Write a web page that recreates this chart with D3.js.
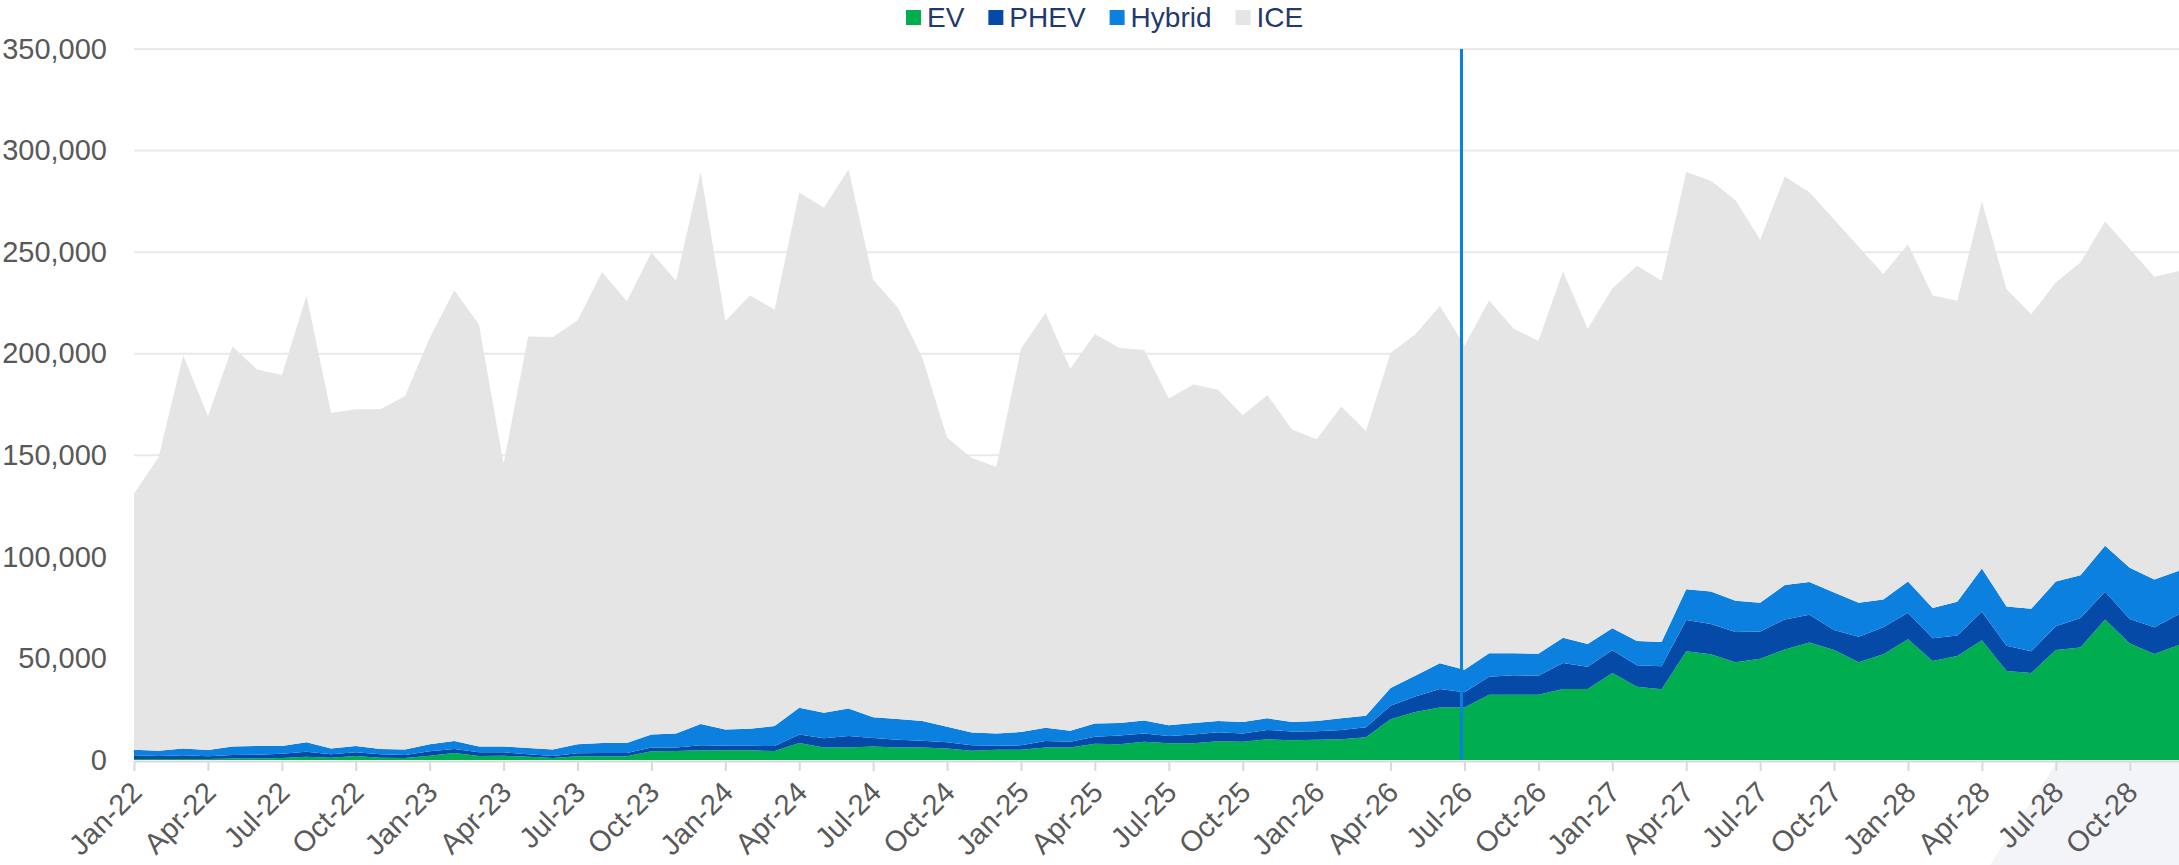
<!DOCTYPE html>
<html>
<head>
<meta charset="utf-8">
<script src="https://cdn.jsdelivr.net/npm/d3@7"></script>
<style>
  html, body { margin: 0; padding: 0; background: #ffffff; }
  svg { display: block; font-family: "Liberation Sans", Arial, sans-serif; }
</style>
</head>
<body>
<svg id="chart" width="2179" height="865"></svg>
<script>
// Monthly vehicle sales by powertrain, Jan-22 to Dec-28
const monthNames = ["Jan", "Feb", "Mar", "Apr", "May", "Jun", "Jul", "Aug", "Sep", "Oct", "Nov", "Dec"];
const years = ["22", "23", "24", "25", "26", "27", "28"];
const categories = years.flatMap(y => monthNames.map(m => `${m}-${y}`));

const seriesNames = ["EV", "PHEV", "Hybrid", "ICE"];

const ev = [
  500, 500, 500, 500, 700, 800, 1000, 1600, 1100, 2000, 1100, 1000,
  2100, 3400, 2000, 2100, 1600, 1000, 1800, 1800, 1800, 4300, 4400, 4800,
  4800, 4800, 4400, 8400, 6200, 6200, 6700, 6200, 6100, 5700, 4600, 5100,
  5100, 6200, 6200, 8000, 7700, 9000, 8200, 8200, 9200, 9000, 10200, 9700,
  10000, 10200, 11200, 20000, 23600, 25900, 25900, 32100, 32100, 32100, 34900, 34900,
  42800, 36000, 34800, 53500, 52000, 48100, 49900, 54400, 57900, 54100, 48100, 52000,
  59400, 48700, 51200, 59000, 43800, 42800, 54100, 55400, 69200, 57400, 52200, 56600
];
const phev = [
  1800, 1500, 1800, 1300, 1800, 1800, 2100, 2500, 1700, 1800, 1700, 1500,
  2200, 2000, 1800, 1700, 1200, 1000, 1500, 1600, 1600, 1800, 1700, 2400,
  2200, 2200, 2500, 4100, 4500, 5600, 4100, 3800, 3400, 3000, 2600, 1900,
  2100, 3100, 2800, 3500, 4300, 4100, 3600, 4300, 4400, 4000, 4600, 4300,
  4100, 4600, 4900, 6700, 7600, 9000, 7500, 8900, 9600, 9400, 12800, 11000,
  11200, 10600, 11400, 15400, 14900, 14900, 13400, 14800, 13600, 9900, 12600, 13300,
  13100, 11200, 10100, 14000, 12500, 10700, 11800, 14500, 13600, 12000, 13100, 15100
];
const hybrid = [
  2800, 2600, 3400, 3100, 4200, 4300, 3800, 4600, 2800, 3100, 2600, 2700,
  3400, 3900, 2900, 2800, 3100, 3200, 4400, 5000, 5000, 6400, 7000, 10500,
  8000, 8400, 9800, 13200, 12600, 13600, 10200, 10200, 9700, 7700, 6300, 6000,
  6600, 6600, 5400, 6500, 6200, 6400, 5300, 5700, 5600, 5700, 5700, 4700,
  5100, 5700, 5700, 8700, 10300, 12700, 11000, 11600, 10900, 10800, 12500, 11200,
  10900, 12000, 11900, 15100, 16100, 15400, 14100, 16900, 16100, 18500, 16700, 13700,
  15400, 14900, 16600, 21300, 19300, 20900, 22000, 21000, 22700, 25200, 23600, 21500
];
const ice = [
  126000, 144600, 193500, 164300, 196900, 185300, 182600, 219800, 165200, 165800, 167300, 174000,
  200000, 221900, 207700, 139300, 202600, 203000, 208700, 231800, 217400, 237300, 222800, 271800,
  201100, 213300, 205000, 253600, 248500, 265400, 215400, 202600, 178700, 142300, 135200, 131300,
  188700, 204300, 178200, 191700, 184600, 182300, 160800, 166700, 163000, 151000, 159200, 144000,
  138700, 153500, 140200, 164900, 167900, 175900, 159700, 173600, 159700, 154100, 180300, 155200,
  167200, 184700, 177800, 205500, 202200, 197200, 178700, 201100, 191900, 183600, 175200, 160200,
  166000, 153900, 148200, 180600, 156100, 145000, 147200, 154000, 159600, 156900, 149000, 147500
];

const yTicks = [0, 50000, 100000, 150000, 200000, 250000, 300000, 350000];
const markerMonth = "Jul-26";

const colors = {
  EV: "#00ad4f",
  PHEV: "#044aa6",
  Hybrid: "#0b80df",
  ICE: "#e5e5e5"
};

const W = 2179, H = 865;
const plot = { left: 134, right: 2179, top: 49, bottom: 760 };

const svg = d3.select("#chart");

// Shaded corner panel in the lower right
svg.append("polygon")
  .attr("points", [[2057, 762], [W, 762], [W, H], [1990, H]].map(p => p.join(",")).join(" "))
  .attr("fill", "#f3f4f8");

const rows = categories.map((c, i) => ({
  month: c, EV: ev[i], PHEV: phev[i], Hybrid: hybrid[i], ICE: ice[i]
}));

const x = d3.scalePoint().domain(categories).range([plot.left, plot.right]);
const y = d3.scaleLinear().domain([0, 350000]).range([plot.bottom, plot.top]);

// Horizontal gridlines
svg.append("g")
  .selectAll("line")
  .data(yTicks.filter(t => t > 0))
  .join("line")
  .attr("x1", plot.left).attr("x2", plot.right)
  .attr("y1", d => y(d)).attr("y2", d => y(d))
  .attr("stroke", "#e9e9e9")
  .attr("stroke-width", 2);

// Stacked areas
const stacked = d3.stack().keys(seriesNames)(rows);
const area = d3.area()
  .x(d => x(d.data.month))
  .y0(d => y(d[0]))
  .y1(d => y(d[1]));

svg.append("g")
  .selectAll("path")
  .data(stacked)
  .join("path")
  .attr("d", area)
  .attr("fill", d => colors[d.key]);

// Y axis labels
const yAxis = d3.axisLeft(y)
  .tickValues(yTicks)
  .tickFormat(d3.format(","))
  .tickSize(0)
  .tickPadding(27);

const gy = svg.append("g")
  .attr("transform", `translate(${plot.left},0)`)
  .call(yAxis);
gy.select(".domain").remove();
gy.selectAll("text")
  .attr("fill", "#595959")
  .attr("font-size", 29)
  .attr("font-family", "'Liberation Sans', Arial, sans-serif");

// X axis with quarterly ticks
const xTickVals = categories.filter((c, i) => i % 3 === 0);
const xAxis = d3.axisBottom(x)
  .tickValues(xTickVals)
  .tickSize(10)
  .tickSizeOuter(0)
  .tickPadding(4);

const gx = svg.append("g")
  .attr("transform", `translate(0,${plot.bottom + 1})`)
  .call(xAxis);
gx.select(".domain").attr("stroke", "#d9d9d9").attr("stroke-width", 2);
gx.selectAll(".tick line").attr("stroke", "#d9d9d9").attr("stroke-width", 2);
gx.selectAll("text")
  .attr("fill", "#595959")
  .attr("font-size", 29)
  .attr("font-family", "'Liberation Sans', Arial, sans-serif")
  .attr("text-anchor", "end")
  .attr("dx", "0")
  .attr("dy", "0.35em")
  .attr("transform", "translate(2,26) rotate(-45)")
  .attr("y", 0);

// Vertical marker line, drawn just left of its month tick
const markerX = x(markerMonth) - 3;
svg.append("line")
  .attr("x1", markerX).attr("x2", markerX)
  .attr("y1", plot.top).attr("y2", plot.bottom)
  .attr("stroke", "#0b80df")
  .attr("stroke-width", 3);

// Legend
const legend = svg.append("g").attr("font-family", "'Liberation Sans', Arial, sans-serif");
let lx = 906;
seriesNames.forEach(name => {
  legend.append("rect")
    .attr("x", lx).attr("y", 10)
    .attr("width", 15).attr("height", 15)
    .attr("fill", colors[name]);
  const t = legend.append("text")
    .attr("x", lx + 21).attr("y", 27)
    .attr("font-size", 28)
    .attr("fill", "#1f3a6e")
    .text(name);
  lx += 21 + t.node().getComputedTextLength() + 24;
});
</script>
</body>
</html>
